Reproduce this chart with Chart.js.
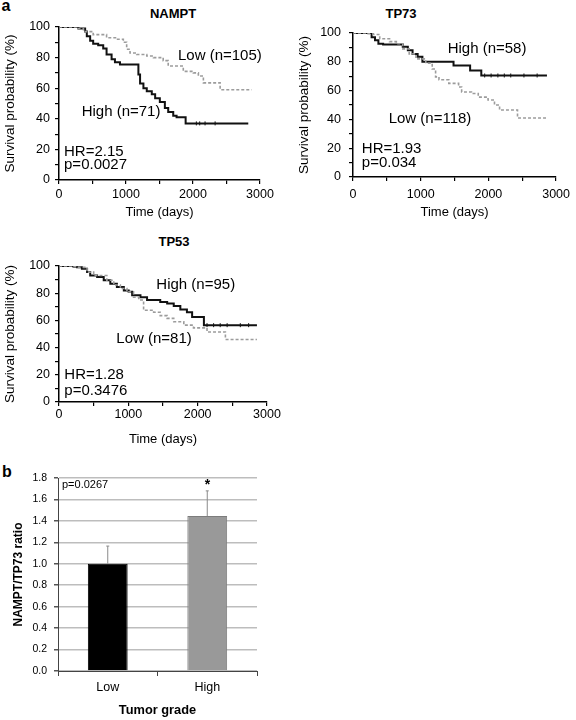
<!DOCTYPE html>
<html lang="en">
<head>
<meta charset="UTF-8">
<script src="https://cdn.jsdelivr.net/npm/chart.js@4.4.1/dist/chart.umd.min.js"></script>
<style>
  body { margin: 0; background: #fff; }
  #fig { position: relative; width: 576px; height: 720px; overflow: hidden; font-family: 'Liberation Sans', Arial, sans-serif; }
  .box { position: absolute; }
  .lbl { position: absolute; color: #000; white-space: nowrap; transform: translate(-50%, -50%); }
</style>
</head>
<body>
<div id="fig">
  <div class="lbl" style="left:6px;top:6px;font-weight:bold;font-size:16px">a</div>
  <div class="lbl" style="left:7px;top:472px;font-weight:bold;font-size:16px">b</div>
  <div class="lbl" style="left:173px;top:13px;font-weight:bold;font-size:13px">NAMPT</div>
  <div class="lbl" style="left:401px;top:13px;font-weight:bold;font-size:13px">TP73</div>
  <div class="lbl" style="left:174px;top:241px;font-weight:bold;font-size:13px">TP53</div>

  <div class="box" style="left:0;top:0;width:290px;height:220px"><canvas id="nampt"></canvas></div>
  <div class="box" style="left:290px;top:0;width:286px;height:220px"><canvas id="tp73"></canvas></div>
  <div class="box" style="left:0;top:220px;width:290px;height:227px"><canvas id="tp53"></canvas></div>
  <div class="box" style="left:0;top:460px;width:290px;height:260px"><canvas id="ratio"></canvas></div>
</div>
<script>
// Kaplan-Meier step data: event times (days) and survival (%) after each step
const namptHighT = [0, 290, 390, 415, 465, 510, 585, 660, 710, 785, 835, 910, 1185, 1210, 1260, 1310, 1385, 1435, 1505, 1580, 1630, 1705, 1755, 1890, 2825]
const namptHighS = [100, 99, 97, 94, 91, 89, 88, 86, 82, 79, 77, 75.5, 69, 63, 60, 58, 56, 53.5, 51, 47, 44.5, 42, 41, 37, 37]
const namptLowT = [0, 265, 365, 510, 710, 860, 960, 1010, 1060, 1160, 1310, 1410, 1555, 1630, 1855, 2005, 2080, 2155, 2405, 2875]
const namptLowS = [100, 99, 97, 95, 93, 92, 90, 85.5, 83, 82, 81, 80, 78, 74.5, 71, 70, 68, 63.5, 59, 59]
const namptHighCens = [2050, 2100, 2180, 2330]

const tp73HighT = [0, 275, 325, 375, 445, 735, 810, 880, 955, 1025, 1485, 1730, 1895, 2865]
const tp73HighS = [100, 97, 95, 92.5, 92, 90.5, 88, 85.5, 83.5, 80, 77.5, 74, 70.5, 70.5]
const tp73LowT = [0, 205, 300, 395, 540, 640, 735, 830, 930, 1075, 1170, 1220, 1270, 1415, 1560, 1605, 1750, 1850, 1995, 2090, 2165, 2430, 2865]
const tp73LowS = [100, 99.5, 99, 96, 94, 92.5, 89, 85.5, 82, 79, 75, 69.5, 67.5, 65, 62.5, 59, 58, 55.5, 53.5, 50, 46.5, 41, 41]
const tp73HighCens = [1945, 2040, 2140, 2235, 2330, 2525, 2720]

const tp53HighT = [0, 210, 260, 330, 405, 450, 550, 645, 740, 835, 935, 1005, 1055, 1175, 1270, 1460, 1560, 1655, 1750, 1845, 1920, 2090, 2855]
const tp53HighS = [100, 99.5, 99, 98, 95.5, 93, 92, 89.5, 87, 84.5, 82, 81, 78.5, 77, 75, 73.5, 72.5, 70.5, 68, 66, 62.5, 56.5, 56.5]
const tp53LowT = [0, 210, 260, 405, 500, 690, 790, 885, 980, 1075, 1150, 1220, 1365, 1460, 1560, 1655, 1800, 1940, 2135, 2400, 2855]
const tp53LowS = [100, 99.5, 99, 95.5, 93, 89.5, 86, 83.5, 81, 77, 75, 67.5, 66, 63.5, 61.5, 59, 56.5, 54.5, 51.5, 46, 46]
const tp53HighCens = [2135, 2230, 2325, 2425, 2615, 2735]

// panel b
const grades = ['Low', 'High']
const ratioMean = [1.0, 1.445]
const ratioErr = [0.165, 0.235]

const font = "'Liberation Sans', Arial, sans-serif"
Chart.defaults.font.family = font
Chart.defaults.color = '#000'

// free text placed at data coordinates
const notesPlugin = {
  id: 'notes',
  afterDatasetsDraw(chart, args, opts) {
    const { ctx, scales } = chart
    ctx.save()
    ;(opts.items || []).forEach(n => {
      ctx.font = n.font
      ctx.fillStyle = '#000'
      ctx.textAlign = 'left'
      ctx.textBaseline = 'middle'
      ctx.fillText(n.text, scales.x.getPixelForValue(n.x), scales.y.getPixelForValue(n.y))
    })
    ctx.restore()
  }
}

// one-sided error bars for the bar chart
const errPlugin = {
  id: 'errbars',
  afterDatasetsDraw(chart, args, opts) {
    const { ctx, scales: { y } } = chart
    const meta = chart.getDatasetMeta(0)
    ctx.save()
    ctx.strokeStyle = '#8a8a8a'
    ctx.lineWidth = 1
    meta.data.forEach((bar, i) => {
      const top = y.getPixelForValue(ratioMean[i] + opts.err[i])
      ctx.beginPath()
      ctx.moveTo(bar.x, bar.y)
      ctx.lineTo(bar.x, top)
      ctx.moveTo(bar.x - 1.5, top)
      ctx.lineTo(bar.x + 1.5, top)
      ctx.stroke()
    })
    ctx.restore()
  }
}

const survAt = (times, vals, t) => {
  let s = vals[0]
  times.forEach((tt, i) => { if (tt <= t) s = vals[i] })
  return s
}

const steps = (times, vals) => times.map((t, i) => ({ x: t, y: vals[i] }))

function kmChart(id, hiT, hiS, loT, loS, cens, notes, g) {
  new Chart(document.getElementById(id), {
    type: 'line',
    data: {
      datasets: [
        { data: steps(loT, loS), borderColor: '#9c9c9c', borderWidth: 1.6, borderDash: [3, 2], stepped: 'before', pointRadius: 0 },
        { data: steps(hiT, hiS), borderColor: '#111', borderWidth: 2, stepped: 'before', pointRadius: 0 },
        { data: cens.map(t => ({ x: t, y: survAt(hiT, hiS, t) })), showLine: false, pointStyle: 'line', rotation: 90,
          pointRadius: 2, borderColor: '#111', borderWidth: 1 }
      ]
    },
    options: {
      responsive: true,
      maintainAspectRatio: false,
      animation: false,
      layout: { padding: { top: g.top, right: g.right, left: 0, bottom: 0 } },
      plugins: { legend: { display: false }, tooltip: { enabled: false }, notes: { items: notes } },
      scales: {
        x: {
          type: 'linear', min: 0, max: 3000,
          border: { color: '#000', width: 1.5 },
          grid: { drawOnChartArea: false, color: '#000', tickLength: 4, lineWidth: 1.2 },
          ticks: { stepSize: 500, padding: g.xpad, autoSkip: false, maxRotation: 0, font: { size: 12.5 },
                   callback: v => v % 1000 === 0 ? v : '' },
          title: { display: true, text: 'Time (days)', font: { size: 13 }, padding: { top: 0, bottom: 0 } },
          afterFit: s => { s.height = g.xh }
        },
        y: {
          min: 0, max: 100,
          border: { color: '#000', width: 1.5 },
          grid: { drawOnChartArea: false, color: '#000', tickLength: 4, lineWidth: 1.2 },
          ticks: { stepSize: 10, padding: g.ypad, autoSkip: false, font: { size: 12.5 },
                   callback: v => v % 20 === 0 ? v : '' },
          title: { display: true, text: 'Survival probability (%)', font: { size: 13.5 }, padding: { top: g.ttl, bottom: 0 } },
          afterFit: s => { s.width = g.yw }
        }
      }
    },
    plugins: [notesPlugin]
  })
}

const big = '15px ' + font

kmChart('nampt', namptHighT, namptHighS, namptLowT, namptLowS, namptHighCens, [
  { text: 'Low (n=105)', x: 1776, y: 81, font: big },
  { text: 'High (n=71)', x: 338, y: 44.6, font: big },
  { text: 'HR=2.15', x: 75, y: 18.3, font: big },
  { text: 'p=0.0027', x: 75, y: 9.8, font: big }
], { top: 27, right: 30, xh: 40, yw: 59, xpad: 3, ypad: 5, ttl: 2 })

kmChart('tp73', tp73HighT, tp73HighS, tp73LowT, tp73LowS, tp73HighCens, [
  { text: 'High (n=58)', x: 1398, y: 88.7, font: big },
  { text: 'Low (n=118)', x: 527, y: 40.3, font: big },
  { text: 'HR=1.93', x: 130, y: 19.5, font: big },
  { text: 'p=0.034', x: 130, y: 9.7, font: big }
], { top: 33, right: 17, xh: 43, yw: 63, xpad: 6, ypad: 8, ttl: 6 })

kmChart('tp53', tp53HighT, tp53HighS, tp53LowT, tp53LowS, tp53HighCens, [
  { text: 'High (n=95)', x: 1404, y: 86.3, font: big },
  { text: 'Low (n=81)', x: 827, y: 46.6, font: big },
  { text: 'HR=1.28', x: 77, y: 19.6, font: big },
  { text: 'p=0.3476', x: 77, y: 7.9, font: big }
], { top: 46, right: 23, xh: 45, yw: 59, xpad: 1, ypad: 5, ttl: 2 })

new Chart(document.getElementById('ratio'), {
  type: 'bar',
  data: {
    labels: grades,
    datasets: [{
      data: ratioMean,
      backgroundColor: ['#000', '#999'],
      borderColor: ['#000', '#7c7c7c'],
      borderWidth: 1,
      barPercentage: 0.4,
      categoryPercentage: 1
    }]
  },
  options: {
    responsive: true,
    maintainAspectRatio: false,
    animation: false,
    layout: { padding: { top: 18, right: 33, left: 0, bottom: 0 } },
    plugins: {
      legend: { display: false },
      tooltip: { enabled: false },
      errbars: { err: ratioErr },
      notes: { items: [
        { text: 'p=0.0267', x: -0.46, y: 1.735, font: '11px ' + font },
        { text: '*', x: 0.975, y: 1.73, font: 'bold 14px ' + font }
      ] }
    },
    scales: {
      x: {
        border: { color: '#444', width: 1 },
        grid: { drawOnChartArea: false, color: '#444', tickLength: 5 },
        ticks: { padding: 4, font: { size: 12.5 } },
        title: { display: true, text: 'Tumor grade', font: { size: 12.8, weight: 'bold' }, padding: { top: 0, bottom: 1.6 } },
        afterFit: s => { s.height = 49 }
      },
      y: {
        min: 0, max: 1.8,
        border: { color: '#444', width: 1 },
        grid: { color: '#bdbdbd', lineWidth: 1.5, tickColor: '#555', tickLength: 4 },
        ticks: { stepSize: 0.2, padding: 7, autoSkip: false, font: { size: 10.5 }, callback: v => v.toFixed(1) },
        title: { display: true, text: 'NAMPT/TP73 ratio', font: { size: 12, weight: 'bold' }, padding: { top: 11.8, bottom: 0 } },
        afterFit: s => { s.width = 58 }
      }
    }
  },
  plugins: [errPlugin, notesPlugin]
})
</script>
</body>
</html>
